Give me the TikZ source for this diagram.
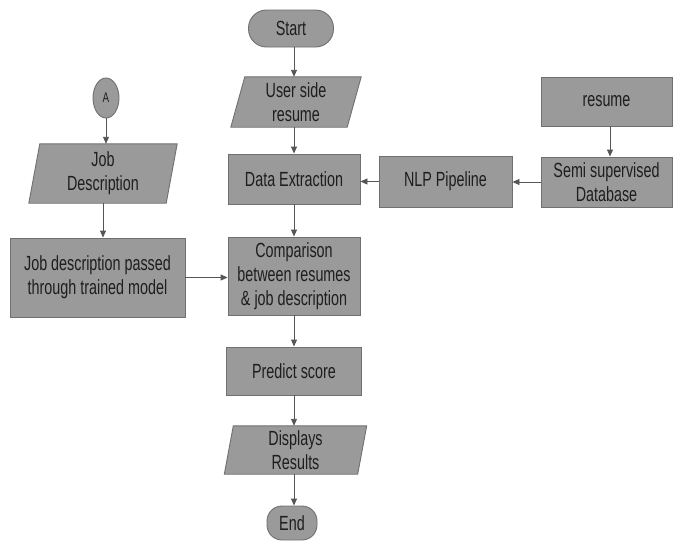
\documentclass[tikz,border=0pt]{standalone}
\usepackage{fontspec}
\setmainfont{Liberation Sans}[FakeStretch=0.70]
\usetikzlibrary{arrows.meta,shapes.geometric,backgrounds}
\pgfdeclarelayer{canvasbg}
\pgfsetlayers{canvasbg,background,main}
\definecolor{boxfill}{HTML}{9A9A9A}
\definecolor{boxline}{HTML}{707070}
\definecolor{txt}{HTML}{1E1E1E}
\definecolor{arr}{HTML}{555555}
\begin{document}
\begin{tikzpicture}[x=1pt,y=-1pt,
  lbl/.style={text=txt, font=\fontsize{20.5}{24}\selectfont, align=center, inner sep=0pt},
  box/.style={lbl, draw=boxline, fill=boxfill, line width=0.9pt},
  para/.style={lbl},
  paraface/.style={draw=boxline, fill=boxfill, line width=0.9pt},
  conn/.style={draw=arr, line width=0.9pt, -{Triangle[length=7pt,width=6pt]}}]
\begin{pgfonlayer}{canvasbg}
\fill[white] (0,0) rectangle (677,541);
\end{pgfonlayer}
\useasboundingbox (0,0) rectangle (677,541);

% main column
\node[box, rounded corners=18pt, minimum width=85pt, minimum height=37pt] (start) at (291,28.5) {Start};
\node[para, minimum width=116pt, minimum height=50pt] (usr) at (296,102) {User side\\resume};
\node[box, minimum width=132pt, minimum height=50pt] (de) at (294,179) {Data Extraction};
\node[box, minimum width=132pt, minimum height=78pt] (comp) at (294,276) {Comparison\\between resumes\\\& job description};
\node[box, minimum width=135pt, minimum height=48pt] (pred) at (294,371) {Predict score};
\node[para, minimum width=133pt, minimum height=48pt] (disp) at (295.5,450) {Displays\\Results};
\node[box, rounded corners=15pt, minimum width=50pt, minimum height=34pt] (end) at (292,523) {End};

% left column
\node[lbl, draw=boxline, fill=boxfill, line width=0.9pt, ellipse, minimum width=26pt, minimum height=40pt, font=\fontsize{14}{16}\selectfont] (a) at (106,98) {A};
\node[para, minimum width=137pt, minimum height=59pt] (jd) at (103,173.5) {Job\\Description};
\node[box, minimum width=175pt, minimum height=79pt] (jdp) at (97.5,277.5) {Job description passed\\through trained model};

% right side
\node[box, minimum width=131pt, minimum height=49pt] (res) at (606.5,101.5) {resume};
\node[box, minimum width=131pt, minimum height=50pt] (semi) at (606.5,182) {Semi supervised\\Database};
\node[box, minimum width=133pt, minimum height=51pt] (nlp) at (445.5,181.5) {NLP Pipeline};

\begin{pgfonlayer}{background}
\filldraw[paraface] ([xshift=7pt]usr.north west) -- ([xshift=7pt]usr.north east) -- ([xshift=-7pt]usr.south east) -- ([xshift=-7pt]usr.south west) -- cycle;
\filldraw[paraface] ([xshift=4.5pt]disp.north west) -- ([xshift=4.5pt]disp.north east) -- ([xshift=-4.5pt]disp.south east) -- ([xshift=-4.5pt]disp.south west) -- cycle;
\filldraw[paraface] ([xshift=5.5pt]jd.north west) -- ([xshift=5.5pt]jd.north east) -- ([xshift=-5.5pt]jd.south east) -- ([xshift=-5.5pt]jd.south west) -- cycle;
\end{pgfonlayer}

% connectors
\draw[conn] (start.south -| de.north) -- (usr.north -| de.north);
\draw[conn] (usr.south -| de.north) -- (de.north);
\draw[conn] (de) -- (comp);
\draw[conn] (comp) -- (pred);
\draw[conn] (pred.south) -- (disp.north -| pred.south);
\draw[conn] (disp.south -| pred.south) -- (end.north -| pred.south);
\draw[conn] (a) -- (a |- jd.north);
\draw[conn] (jd) -- (jd |- jdp.north);
\draw[conn] (jdp.east) -- (jdp.east -| comp.west);
\draw[conn] ([xshift=3.5pt]res.south) -- ([xshift=3.5pt]res.south |- semi.north);
\draw[conn] (semi.west) -- (semi.west -| nlp.east);
\draw[conn] (nlp.west) -- (nlp.west -| de.east);
\end{tikzpicture}
\end{document}
